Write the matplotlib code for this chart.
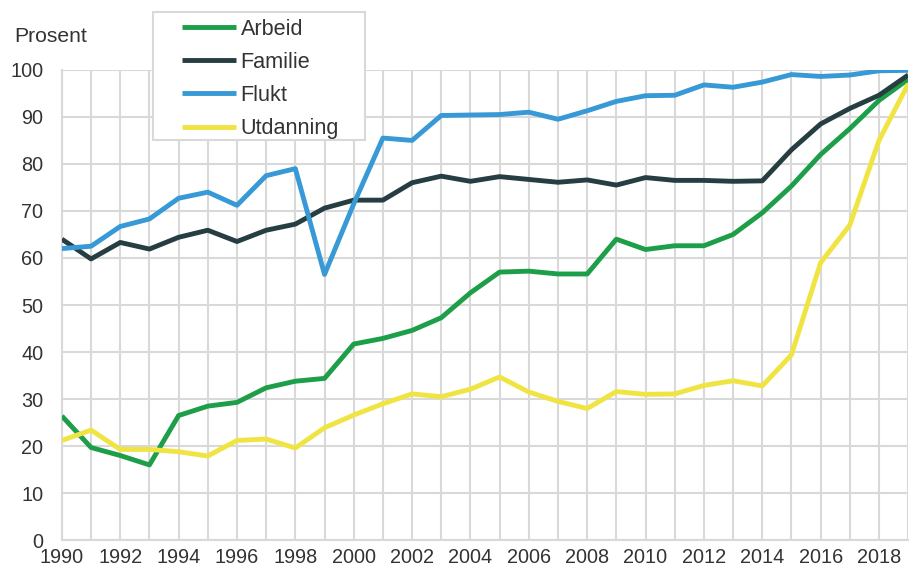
import numpy as np
import matplotlib.pyplot as plt
from matplotlib.patches import Rectangle
from matplotlib.ticker import MultipleLocator

plt.rcParams['font.family'] = ['Liberation Sans', 'DejaVu Sans']

years = list(range(1990, 2020))

arbeid = [26.4, 19.7, 18.0, 16.0, 26.5, 28.5, 29.3, 32.4, 33.8, 34.4,
          41.7, 42.9, 44.6, 47.3, 52.6, 57.0, 57.2, 56.6, 56.6, 64.0,
          61.8, 62.6, 62.6, 65.0, 69.6, 75.3, 82.0, 87.5, 93.5, 98.0]
familie = [64.0, 59.8, 63.3, 61.9, 64.4, 65.9, 63.5, 65.9, 67.2, 70.6,
           72.3, 72.3, 76.0, 77.4, 76.3, 77.3, 76.7, 76.1, 76.6, 75.5,
           77.1, 76.5, 76.5, 76.3, 76.4, 83.0, 88.5, 91.8, 94.6, 98.9]
flukt = [62.0, 62.5, 66.7, 68.3, 72.7, 74.0, 71.2, 77.5, 79.0, 56.5,
         71.5, 85.5, 85.0, 90.3, 90.4, 90.5, 91.0, 89.5, 91.3, 93.3,
         94.5, 94.6, 96.8, 96.3, 97.4, 99.0, 98.6, 98.9, 99.8, 99.9]
utdanning = [21.2, 23.4, 19.3, 19.3, 18.8, 17.9, 21.2, 21.5, 19.6, 23.9,
             26.6, 29.0, 31.1, 30.5, 32.1, 34.7, 31.5, 29.5, 28.0, 31.6,
             31.0, 31.1, 32.9, 33.9, 32.8, 39.4, 59.0, 67.0, 85.0, 97.0]

series = [("Arbeid", arbeid, "#1d9e49"),
          ("Familie", familie, "#263e42"),
          ("Flukt", flukt, "#3799d6"),
          ("Utdanning", utdanning, "#f0e442")]

fig = plt.figure(figsize=(9.1, 5.68), dpi=100)
ax = fig.add_axes([0.068, 0.049, 0.93, 0.828])

for name, vals, col in series:
    ax.plot(years, vals, color=col, lw=3.5, label=name, solid_capstyle='butt', zorder=3)

ax.set_xlim(1990, 2019)
ax.set_ylim(0, 100)
ax.xaxis.set_major_locator(MultipleLocator(2))
ax.xaxis.set_minor_locator(MultipleLocator(1))
ax.yaxis.set_major_locator(MultipleLocator(10))
ax.grid(True, which='both', color='#d9d9d9', lw=1.5, zorder=0)
ax.tick_params(which='both', length=0, labelsize=14.3, colors='#333333')
ax.tick_params(axis='x', pad=5.5)
ax.tick_params(axis='y', pad=13.5)
for s in ['top', 'right']:
    ax.spines[s].set_visible(False)
for s in ['left', 'bottom']:
    ax.spines[s].set_color('#d9d9d9')
    ax.spines[s].set_linewidth(1.5)

fig.text(0.016, 0.935, "Prosent", fontsize=15.2, color='#333333', va='center')

# legend box drawn separately (wider side padding than matplotlib gives)
fig.patches.append(Rectangle((0.168, 0.7535), 0.233, 0.2254, transform=fig.transFigure,
                             facecolor='white', edgecolor='#d9d9d9', lw=1.5, zorder=5))
leg = fig.legend(loc='upper left', bbox_to_anchor=(0.2, 0.967), fontsize=15.6,
                 frameon=False, handlelength=2.5, handletextpad=0.2,
                 labelspacing=0.56, borderpad=0, borderaxespad=0)
leg.set_zorder(6)
for t in leg.get_texts():
    t.set_color('#333333')

fig.savefig("out.png", dpi=100)
